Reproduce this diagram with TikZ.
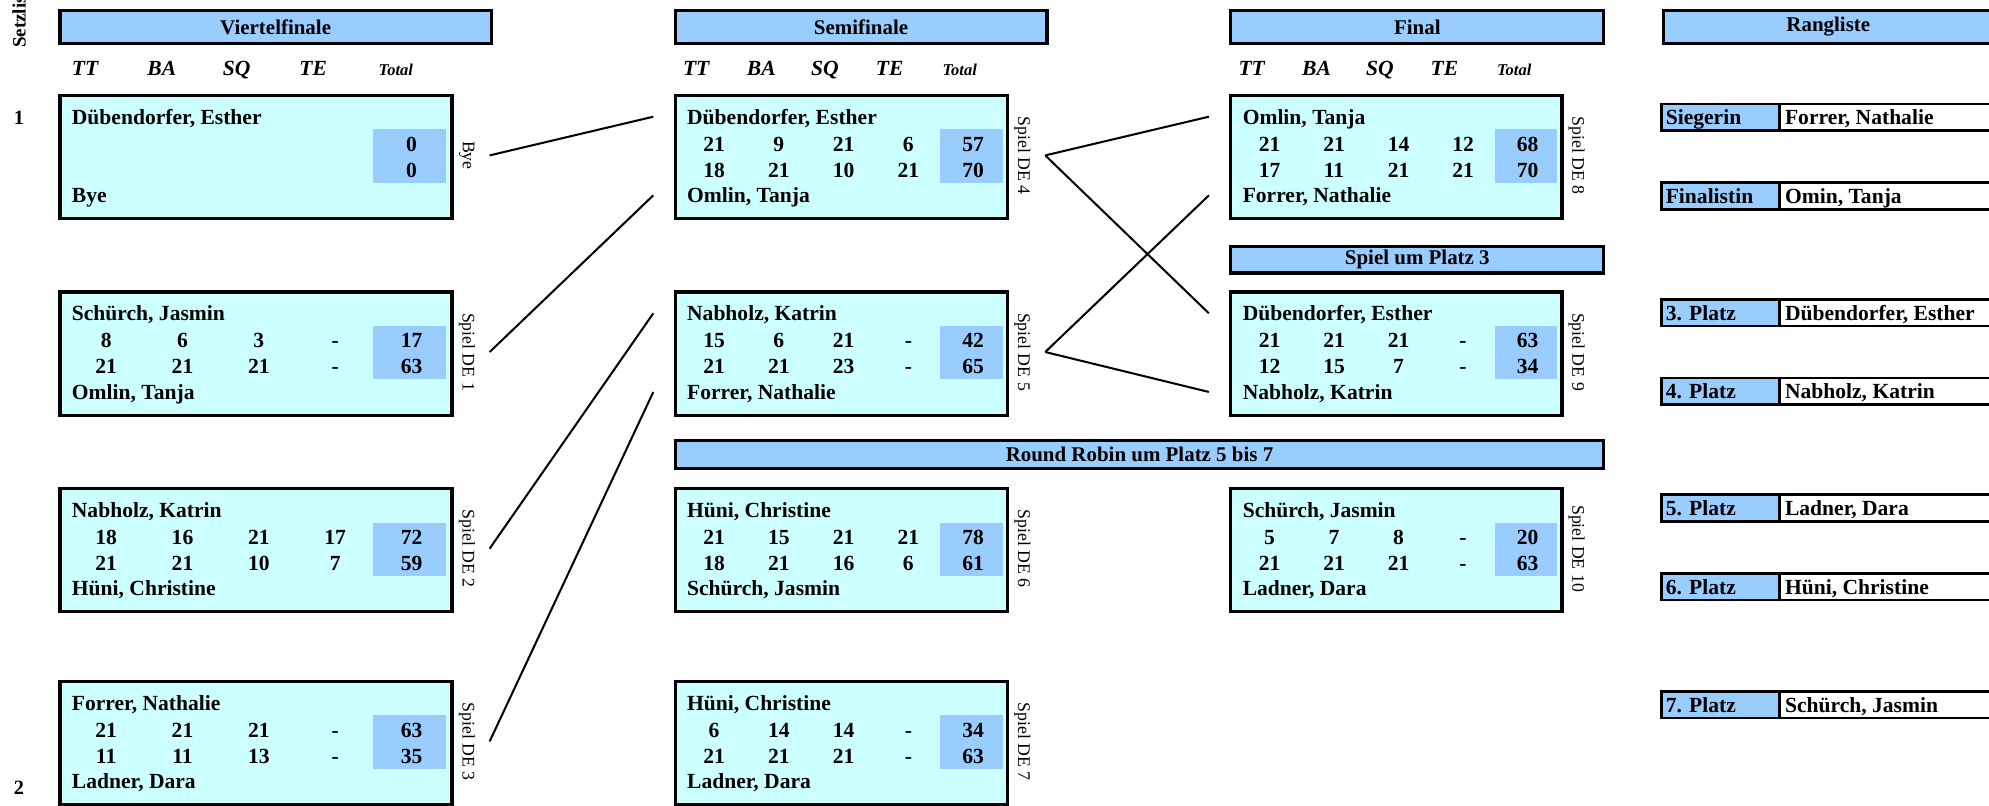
\documentclass[tikz,border=0pt]{standalone}
\usepackage{fontspec}
\setmainfont{Liberation Serif}
\definecolor{hblue}{HTML}{99CCFF}
\definecolor{cardfill}{HTML}{CCFFFF}
\tikzset{
  hdr/.style={draw, line width=2.6pt, fill=hblue, inner sep=0pt, anchor=north west, font=\fontsize{16.5}{19}\selectfont\bfseries},
  card/.style={draw, line width=2.6pt, fill=cardfill, inner sep=0pt, minimum height=97pt, anchor=north west},
  tcell/.style={fill=hblue},
  nm/.style={font=\fontsize{17}{20}\selectfont\bfseries, inner sep=0pt, anchor=base west},
  num/.style={font=\fontsize{17}{20}\selectfont\bfseries, inner sep=0pt, anchor=base},
  colh/.style={font=\fontsize{17}{20}\selectfont\bfseries\itshape, inner sep=0pt, anchor=base},
  colt/.style={font=\fontsize{13}{15}\selectfont\bfseries\itshape, inner sep=0pt, anchor=base},
  side/.style={font=\fontsize{14}{16}\selectfont, inner sep=0pt, rotate=-90},
  conn/.style={line width=1.6pt},
  rk/.style={font=\fontsize{17}{19}\selectfont\bfseries, inner sep=0pt, anchor=base west},
  rkline/.style={line width=2pt},
}
% #1 id, #2 x, #3 y, #4 width, #5 player1, #6 row1, #7 row2, #8 player2, #9 side label
\newcommand{\matchcard}[9]{%
  \node[card, minimum width=#4] (#1) at (#2,#3) {};
  \fill[tcell] ({#2+0.803*#4},{#3+28}) rectangle ({#2+0.99*#4},{#3+70});
  \node[nm] (#1-n1) at ({#2+10.5},{#3+18+5.8}) {#5};
  \node[nm] (#1-n2) at ({#2+10.5},{#3+80+5.8}) {#8};
  \foreach \v [count=\i] in {#6}
    \node[num] (#1-a\i) at ({#2+(0.122+(\i-1)*0.1948)*#4},{#3+39.5+5.8}) {\v};
  \foreach \v [count=\i] in {#7}
    \node[num] (#1-b\i) at ({#2+(0.122+(\i-1)*0.1948)*#4},{#3+60+5.8}) {\v};
  \node[side] (#1-lab) at ({#2+#4+13},{#3+48.5}) {#9};
  \coordinate (#1-out) at ({#2+#4+31},{#3+48.5});
  \coordinate (#1-in1) at ({#2-16},{#3+18});
  \coordinate (#1-in2) at ({#2-16},{#3+80});
}
% #1 id, #2 x, #3 width
\newcommand{\colheads}[3]{%
  \node[colh] (#1-tt) at ({#2+0.068*#3},59.3) {TT};
  \node[colh] (#1-ba) at ({#2+0.264*#3},59.3) {BA};
  \node[colh] (#1-sq) at ({#2+0.455*#3},59.3) {SQ};
  \node[colh] (#1-te) at ({#2+0.650*#3},59.3) {TE};
  \node[colt] (#1-tot) at ({#2+0.861*#3},59.3) {Total};
}
% #1 id, #2 y, #3 label, #4 player
\newcommand{\rankrow}[4]{%
  \fill[hblue] (1310,#2) rectangle (1403,{#2+21});
  \draw[rkline] (1575,#2) -- (1310,#2) -- (1310,{#2+21}) -- (1575,{#2+21});
  \draw[rkline] (1403,#2) -- (1403,{#2+21});
  \node[rk] (#1-l) at (1313,{#2+16.3}) {#3};
  \node[rk] (#1-p) at (1407,{#2+16.3}) {#4};
}
\begin{document}
\begin{tikzpicture}[x=1pt,y=-1pt]
\useasboundingbox (0,0) rectangle (1568,635);
\fill[white] (0,0) rectangle (1568,635);

% seeding column
\node[font=\fontsize{15}{17}\selectfont\bfseries, rotate=90, anchor=west, inner sep=0pt] (setz) at (15,38) {Setzliste};
\node[font=\fontsize{16}{18}\selectfont\bfseries, inner sep=0pt] (seed1) at (15,93) {1};
\node[font=\fontsize{16}{18}\selectfont\bfseries, inner sep=0pt] (seed2) at (15,621) {2};

% headers
\node[hdr, minimum width=340, minimum height=26] (hQF) at (46,7) {Viertelfinale};
\node[hdr, minimum width=293, minimum height=26] (hSF) at (531,7) {Semifinale};
\node[hdr, minimum width=294, minimum height=26] (hF) at (969,7) {Final};
\node[hdr, minimum width=260, minimum height=26] (hR) at (1310,7) {Rangliste};
\node[hdr, minimum width=294, minimum height=21] (hP3) at (969,193) {Spiel um Platz 3};
\node[hdr, minimum width=732, minimum height=22] (hRR) at (531,346) {Round Robin um Platz 5 bis 7};

\colheads{cQF}{46}{309}
\colheads{cSF}{531}{262}
\colheads{cF}{969}{261}

% quarter finals
\matchcard{A}{46}{74}{309}{Dübendorfer, Esther}{{},{},{},{},0}{{},{},{},{},0}{Bye}{Bye}
\matchcard{B}{46}{229}{309}{Schürch, Jasmin}{8,6,3,-,17}{21,21,21,-,63}{Omlin, Tanja}{Spiel DE 1}
\matchcard{C}{46}{384}{309}{Nabholz, Katrin}{18,16,21,17,72}{21,21,10,7,59}{Hüni, Christine}{Spiel DE 2}
\matchcard{D}{46}{536}{309}{Forrer, Nathalie}{21,21,21,-,63}{11,11,13,-,35}{Ladner, Dara}{Spiel DE 3}

% semi finals and round robin
\matchcard{E}{531}{74}{262}{Dübendorfer, Esther}{21,9,21,6,57}{18,21,10,21,70}{Omlin, Tanja}{Spiel DE 4}
\matchcard{F}{531}{229}{262}{Nabholz, Katrin}{15,6,21,-,42}{21,21,23,-,65}{Forrer, Nathalie}{Spiel DE 5}
\matchcard{G}{531}{384}{262}{Hüni, Christine}{21,15,21,21,78}{18,21,16,6,61}{Schürch, Jasmin}{Spiel DE 6}
\matchcard{H}{531}{536}{262}{Hüni, Christine}{6,14,14,-,34}{21,21,21,-,63}{Ladner, Dara}{Spiel DE 7}

% finals
\matchcard{I}{969}{74}{261}{Omlin, Tanja}{21,21,14,12,68}{17,11,21,21,70}{Forrer, Nathalie}{Spiel DE 8}
\matchcard{J}{969}{229}{261}{Dübendorfer, Esther}{21,21,21,-,63}{12,15,7,-,34}{Nabholz, Katrin}{Spiel DE 9}
\matchcard{K}{969}{384}{261}{Schürch, Jasmin}{5,7,8,-,20}{21,21,21,-,63}{Ladner, Dara}{Spiel DE 10}

% connectors
\draw[conn] (A-out) -- (E-in1);
\draw[conn] (B-out) -- (E-in2);
\draw[conn] (C-out) -- (F-in1);
\draw[conn] (D-out) -- (F-in2);
\draw[conn] (E-out) -- (I-in1);
\draw[conn] (E-out) -- (J-in1);
\draw[conn] (F-out) -- (I-in2);
\draw[conn] (F-out) -- (J-in2);

% ranking
\rankrow{r1}{82}{Siegerin}{Forrer, Nathalie}
\rankrow{r2}{144}{Finalistin}{Omin, Tanja}
\rankrow{r3}{236}{3. Platz}{Dübendorfer, Esther}
\rankrow{r4}{298}{4. Platz}{Nabholz, Katrin}
\rankrow{r5}{390}{5. Platz}{Ladner, Dara}
\rankrow{r6}{452}{6. Platz}{Hüni, Christine}
\rankrow{r7}{545}{7. Platz}{Schürch, Jasmin}
\end{tikzpicture}
\end{document}
